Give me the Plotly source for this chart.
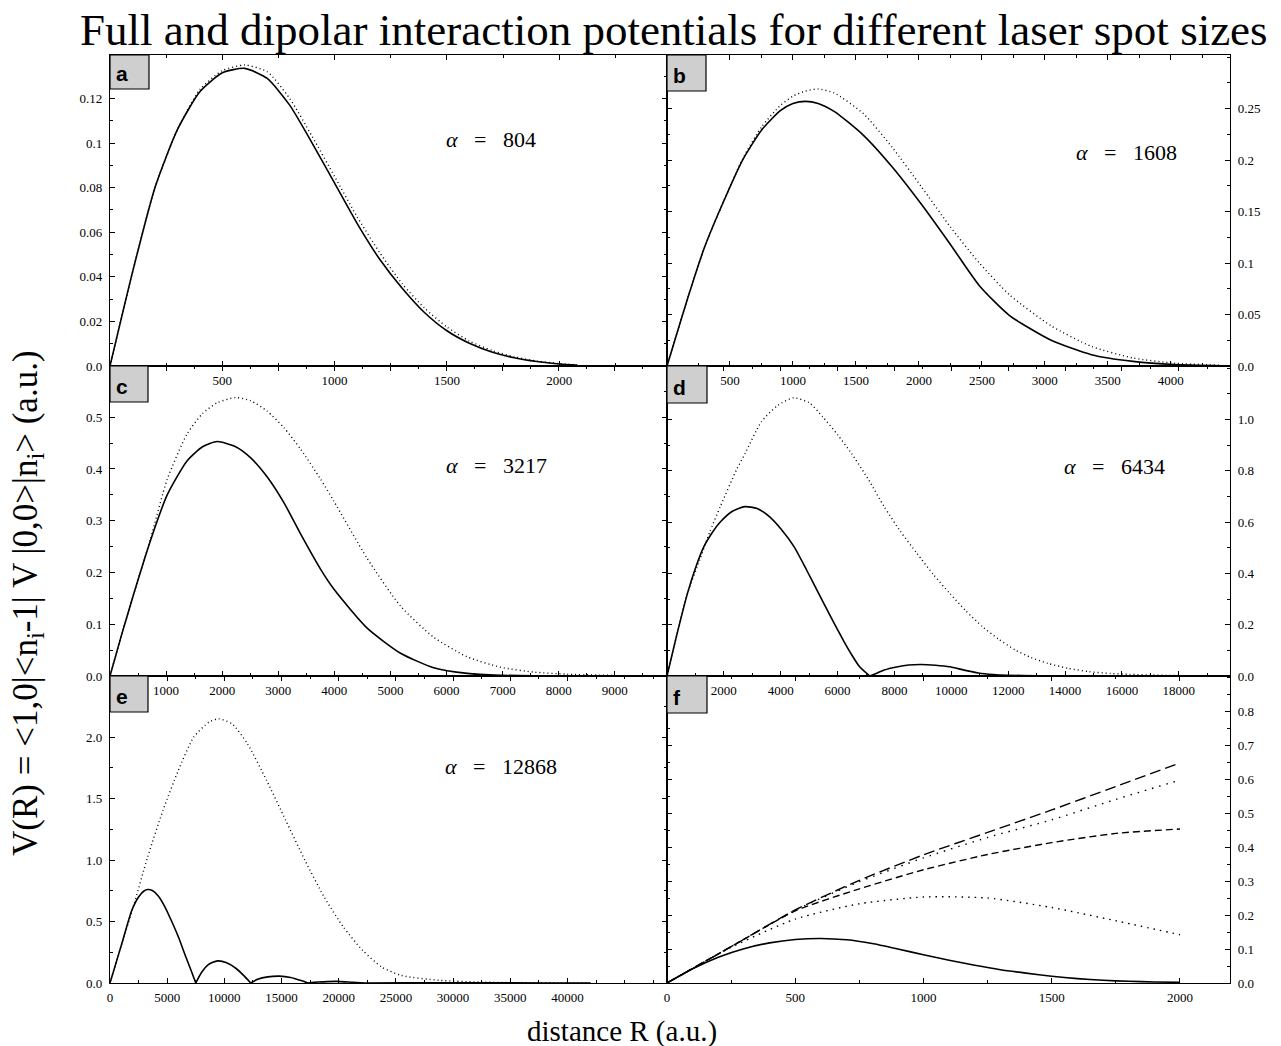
import plotly.graph_objects as go

# ---------------- data ----------------
a_x = [0, 100, 200, 300, 400, 500, 600, 700, 800, 900, 1000, 1100, 1200, 1300, 1400, 1500, 1600, 1700, 1800, 1900, 2000, 2080]
a_full = [0, 0.042, 0.080, 0.106, 0.123, 0.1315, 0.1335, 0.129, 0.117, 0.100, 0.082, 0.064, 0.048, 0.035, 0.024, 0.0158, 0.0102, 0.0063, 0.0037, 0.0020, 0.0009, 0.0004]
a_dip = [0, 0.042, 0.080, 0.106, 0.124, 0.1325, 0.135, 0.132, 0.120, 0.103, 0.085, 0.067, 0.051, 0.037, 0.026, 0.0175, 0.0112, 0.007, 0.0041, 0.0022, 0.0011, 0.0005]

b_x = [0, 175, 300, 450, 600, 750, 900, 1000, 1100, 1200, 1330, 1560, 1790, 2020, 2250, 2480, 2720, 3050, 3370, 3700, 4030, 4400]
b_full = [0, 0.070, 0.116, 0.160, 0.200, 0.229, 0.248, 0.255, 0.257, 0.255, 0.247, 0.224, 0.193, 0.157, 0.118, 0.078, 0.049, 0.025, 0.011, 0.0045, 0.0014, 0.0003]
b_dip = [0, 0.070, 0.116, 0.160, 0.201, 0.232, 0.253, 0.262, 0.267, 0.269, 0.265, 0.245, 0.212, 0.174, 0.135, 0.100, 0.069, 0.039, 0.019, 0.0078, 0.0027, 0.0008]

c_x = [0, 200, 424, 722, 1020, 1376, 1650, 1911, 2240, 2504, 2800, 3100, 3400, 3750, 3990, 4580, 5180, 5770, 6370, 6960, 7560, 8150, 9000]
c_full = [0, 0.077, 0.159, 0.262, 0.350, 0.416, 0.443, 0.453, 0.443, 0.422, 0.385, 0.335, 0.274, 0.207, 0.168, 0.093, 0.044, 0.016, 0.005, 0.0015, 0.0005, 0.0002, 0.0]
c_dip = [0, 0.077, 0.159, 0.265, 0.380, 0.468, 0.507, 0.528, 0.538, 0.532, 0.512, 0.480, 0.438, 0.381, 0.338, 0.228, 0.135, 0.075, 0.037, 0.017, 0.0075, 0.0035, 0.001]

d_full_x = [0, 300, 720, 1000, 1297, 1600, 1873, 2300, 2738, 3170, 3602, 4030, 4467, 4900, 5332, 5760, 6196, 6500, 6773, 7133, 7400, 7637, 8070, 8502, 8934, 9440, 9943, 10450, 10952, 11460, 11960, 13000, 15000, 17000, 18800]
d_full = [0, 0.140, 0.322, 0.420, 0.504, 0.560, 0.600, 0.642, 0.660, 0.653, 0.621, 0.570, 0.504, 0.415, 0.322, 0.230, 0.140, 0.082, 0.036, 0.0, 0.012, 0.023, 0.035, 0.043, 0.045, 0.042, 0.036, 0.023, 0.012, 0.006, 0.003, 0.001, 0.0003, 0.0001, 0.0]
d_dip_x = [0, 300, 720, 1150, 1500, 1873, 2450, 2738, 3314, 3900, 4450, 5000, 5476, 6000, 6485, 7060, 7637, 8200, 8790, 9370, 9943, 10500, 11096, 11670, 12249, 12800, 13401, 14100, 14842, 15600, 16283, 17000, 17724, 18800]
d_dip = [0, 0.140, 0.322, 0.452, 0.560, 0.660, 0.805, 0.865, 0.990, 1.055, 1.084, 1.065, 1.010, 0.940, 0.868, 0.770, 0.660, 0.565, 0.478, 0.395, 0.322, 0.255, 0.192, 0.143, 0.101, 0.072, 0.049, 0.030, 0.017, 0.010, 0.0065, 0.004, 0.002, 0.0008]

e_full_x = [0, 1000, 1900, 2500, 3000, 3300, 3700, 4200, 4800, 5400, 6000, 6600, 7100, 7500, 8000, 8600, 9400, 10200, 11000, 11700, 12300, 12900, 13800, 14800, 15800, 16700, 17300, 18200, 19800, 21200, 22300, 26000, 32000, 38000, 42000]
e_full = [0, 0.31, 0.59, 0.70, 0.75, 0.76, 0.752, 0.71, 0.62, 0.50, 0.37, 0.22, 0.10, 0.0, 0.085, 0.15, 0.18, 0.165, 0.12, 0.06, 0.0, 0.03, 0.05, 0.056, 0.045, 0.02, 0.0, 0.008, 0.0135, 0.006, 0.0, 0.002, 0.001, 0.0005, 0.0]
e_dip_x = [0, 1000, 1946, 3289, 4631, 5974, 7316, 8658, 9497, 10672, 12014, 13692, 15370, 17048, 18726, 20404, 22082, 23760, 25438, 28794, 32150, 35506, 42000]
e_dip = [0, 0.31, 0.591, 1.024, 1.404, 1.729, 2.000, 2.122, 2.149, 2.108, 1.946, 1.648, 1.322, 0.997, 0.699, 0.455, 0.266, 0.130, 0.062, 0.022, 0.008, 0.003, 0.0005]

f_x = [0, 250, 500, 750, 1000, 1250, 1500, 1750, 2000]
f_dash_long = [0, 0.107, 0.215, 0.302, 0.377, 0.443, 0.509, 0.578, 0.647]
f_dot_up = [0, 0.107, 0.214, 0.298, 0.368, 0.428, 0.480, 0.540, 0.597]
f_dash_mid = [0, 0.107, 0.212, 0.277, 0.333, 0.378, 0.413, 0.440, 0.453]
f_dot_low = [0, 0.105, 0.188, 0.233, 0.253, 0.250, 0.222, 0.183, 0.142]
f_full_x = [0, 100, 200, 300, 400, 500, 600, 700, 800, 900, 1000, 1100, 1200, 1300, 1400, 1500, 1600, 1700, 1800, 1900, 2000]
f_full = [0, 0.042, 0.076, 0.101, 0.118, 0.128, 0.131, 0.127, 0.116, 0.100, 0.083, 0.067, 0.052, 0.039, 0.029, 0.020, 0.013, 0.008, 0.005, 0.003, 0.002]

alphas = ["804", "1608", "3217", "6434", "12868"]
panel_letters = ["a", "b", "c", "d", "e", "f"]

a_xticks = [500, 1000, 1500, 2000]
b_xticks = [500, 1000, 1500, 2000, 2500, 3000, 3500, 4000]
c_xticks = [1000, 2000, 3000, 4000, 5000, 6000, 7000, 8000, 9000]
d_xticks = [2000, 4000, 6000, 8000, 10000, 12000, 14000, 16000, 18000]
e_xticks = [0, 5000, 10000, 15000, 20000, 25000, 30000, 35000, 40000]
f_xticks = [0, 500, 1000, 1500, 2000]

a_yticks = [0, 0.02, 0.04, 0.06, 0.08, 0.1, 0.12]
a_ylabels = ["0.0", "0.02", "0.04", "0.06", "0.08", "0.1", "0.12"]
b_yticks = [0, 0.05, 0.1, 0.15, 0.2, 0.25]
b_ylabels = ["0.0", "0.05", "0.1", "0.15", "0.2", "0.25"]
c_yticks = [0, 0.1, 0.2, 0.3, 0.4, 0.5]
c_ylabels = ["0.0", "0.1", "0.2", "0.3", "0.4", "0.5"]
d_yticks = [0, 0.2, 0.4, 0.6, 0.8, 1.0]
d_ylabels = ["0.0", "0.2", "0.4", "0.6", "0.8", "1.0"]
e_yticks = [0, 0.5, 1.0, 1.5, 2.0]
e_ylabels = ["0.0", "0.5", "1.0", "1.5", "2.0"]
f_yticks = [0, 0.1, 0.2, 0.3, 0.4, 0.5, 0.6, 0.7, 0.8]
f_ylabels = ["0.0", "0.1", "0.2", "0.3", "0.4", "0.5", "0.6", "0.7", "0.8"]

# ---------------- layout geometry (pixels) ----------------
W, H = 1281, 1046
L, R, T, B = 110, 1230, 55, 983
CM = 667
R1, R2 = 366, 676


def px(x):
    return (x - L) / (R - L)


def py(y):
    return (B - y) / (B - T)


xdoms = [[0, px(CM)], [px(CM), 1]]
ydoms = [[py(R1), 1], [py(R2), py(R1)], [0, py(R2)]]

SERIF = "Liberation Serif"
tickfont = dict(family=SERIF, size=13, color="black")

fig = go.Figure()

full_line = dict(color="black", width=1.6)
dip_line = dict(color="black", width=1.4, dash="1px,3px")


def add(xs, ys, n, line):
    fig.add_trace(go.Scatter(x=xs, y=ys, mode="lines", line=dict(shape="spline", smoothing=0.6, **line),
                             xaxis="x" if n == 1 else f"x{n}", yaxis="y" if n == 1 else f"y{n}",
                             showlegend=False, hoverinfo="skip"))


def add_cusped(xs, ys, n, line):
    # draw each lobe between interior zeros as its own smooth segment
    start = 0
    for k in range(1, len(xs) - 1):
        if ys[k] == 0 and ys[k - 1] > 0:
            add(xs[start:k + 1], ys[start:k + 1], n, line)
            start = k
    add(xs[start:], ys[start:], n, line)


add(a_x, a_dip, 1, dip_line)
add(a_x, a_full, 1, full_line)
add(b_x, b_dip, 2, dip_line)
add(b_x, b_full, 2, full_line)
add(c_x, c_dip, 3, dip_line)
add(c_x, c_full, 3, full_line)
add(d_dip_x, d_dip, 4, dip_line)
add_cusped(d_full_x, d_full, 4, full_line)
add(e_dip_x, e_dip, 5, dip_line)
add_cusped(e_full_x, e_full, 5, full_line)
add(f_x, f_dash_long, 6, dict(color="black", width=1.4, dash="11px,5px"))
add(f_x, f_dot_up, 6, dict(color="black", width=1.4, dash="1.5px,6px"))
add(f_x, f_dash_mid, 6, dict(color="black", width=1.4, dash="7px,4px"))
add(f_x, f_dot_low, 6, dict(color="black", width=1.4, dash="1.5px,5px"))
add(f_full_x, f_full, 6, full_line)

xinfo = [
    ([0, 2480], a_xticks, 250),
    ([0, 4470], b_xticks, 250),
    ([0, 9930], c_xticks, 500),
    ([0, 19800], d_xticks, 1000),
    ([0, 48700], e_xticks, 2500),
    ([0, 2195], f_xticks, 250),
]
yinfo = [
    ([0, 0.1395], a_yticks, a_ylabels, 0.01),
    ([0, 0.302], b_yticks, b_ylabels, 0.025),
    ([0, 0.599], c_yticks, c_ylabels, 0.05),
    ([0, 1.208], d_yticks, d_ylabels, 0.1),
    ([0, 2.497], e_yticks, e_ylabels, 0.25),
    ([0, 0.903], f_yticks, f_ylabels, 0.05),
]

layout = {}
for i in range(6):
    n = i + 1
    col = i % 2
    row = i // 2
    xr, xt, xm = xinfo[i]
    yr, yt, yl, ym = yinfo[i]
    xk = "xaxis" if n == 1 else f"xaxis{n}"
    yk = "yaxis" if n == 1 else f"yaxis{n}"
    layout[xk] = dict(
        domain=xdoms[col], anchor="y" if n == 1 else f"y{n}", range=xr,
        tickmode="array", tickvals=xt, ticktext=[str(v) for v in xt],
        showline=True, linecolor="black", linewidth=1.4, mirror="ticks",
        ticks="inside", ticklen=5, tickwidth=1, tickcolor="black",
        minor=dict(ticks="inside", ticklen=3, tickcolor="black", dtick=xm, tick0=0),
        showgrid=False, zeroline=False, tickfont=tickfont, ticklabelstandoff=2,
    )
    layout[yk] = dict(
        domain=ydoms[row], anchor="x" if n == 1 else f"x{n}", range=yr,
        side="left" if col == 0 else "right",
        tickmode="array", tickvals=yt, ticktext=yl,
        showline=True, linecolor="black", linewidth=1.1, mirror="ticks",
        ticks="inside", ticklen=5, tickwidth=1, tickcolor="black",
        minor=dict(ticks="inside", ticklen=3, tickcolor="black", dtick=ym, tick0=0),
        showgrid=False, zeroline=False, tickfont=tickfont, ticklabelstandoff=4,
    )

# panel letter boxes
boxes = [(110, 55, 149, 89), (667, 55, 706, 91), (110, 366, 148, 402),
         (667, 366, 707, 403), (110, 676, 148, 712), (667, 676, 707, 713)]
shapes = []
annotations = []
for (x0, y0, x1, y1), letter in zip(boxes, panel_letters):
    shapes.append(dict(type="rect", xref="paper", yref="paper",
                       x0=px(x0), x1=px(x1), y0=py(y1), y1=py(y0),
                       fillcolor="#cfcfcf", line=dict(color="black", width=1.2), layer="above"))
    annotations.append(dict(xref="paper", yref="paper", x=px(x0 + 4), y=py(y1 - 2),
                            xanchor="left", yanchor="bottom", showarrow=False,
                            text=f"<b>{letter}</b>",
                            font=dict(family="Liberation Sans", size=21, color="black")))

# alpha labels
alpha_pos = [(491, 139), (1126, 152), (496, 465), (1114, 466), (501, 766)]
sp = "\u00a0\u00a0\u00a0"
for (x, y), a in zip(alpha_pos, alphas):
    annotations.append(dict(xref="paper", yref="paper", x=px(x), y=py(y),
                            xanchor="center", yanchor="middle", showarrow=False,
                            text="<i>α</i>" + sp + "=" + sp + a,
                            font=dict(family=SERIF, size=22, color="black")))

# titles
annotations.append(dict(xref="paper", yref="paper", x=px(674), y=py(30),
                        xanchor="center", yanchor="middle", showarrow=False,
                        text="Full and dipolar interaction potentials for different laser spot sizes",
                        font=dict(family=SERIF, size=45, color="black")))
annotations.append(dict(xref="paper", yref="paper", x=px(622), y=py(1031),
                        xanchor="center", yanchor="middle", showarrow=False,
                        text="distance R (a.u.)",
                        font=dict(family=SERIF, size=29, color="black")))
annotations.append(dict(xref="paper", yref="paper", x=px(28), y=py(603),
                        xanchor="center", yanchor="middle", showarrow=False, textangle=-90,
                        text="V(R) = &lt;1,0|&lt;n<sub>i</sub>-1| V |0,0&gt;|n<sub>i</sub>&gt; (a.u.)",
                        font=dict(family=SERIF, size=35, color="black")))

fig.update_layout(
    width=W, height=H,
    margin=dict(l=L, r=W - R, t=T, b=H - B, pad=0),
    paper_bgcolor="white", plot_bgcolor="white",
    shapes=shapes, annotations=annotations, showlegend=False,
    **layout,
)

fig.write_html("out.html")
